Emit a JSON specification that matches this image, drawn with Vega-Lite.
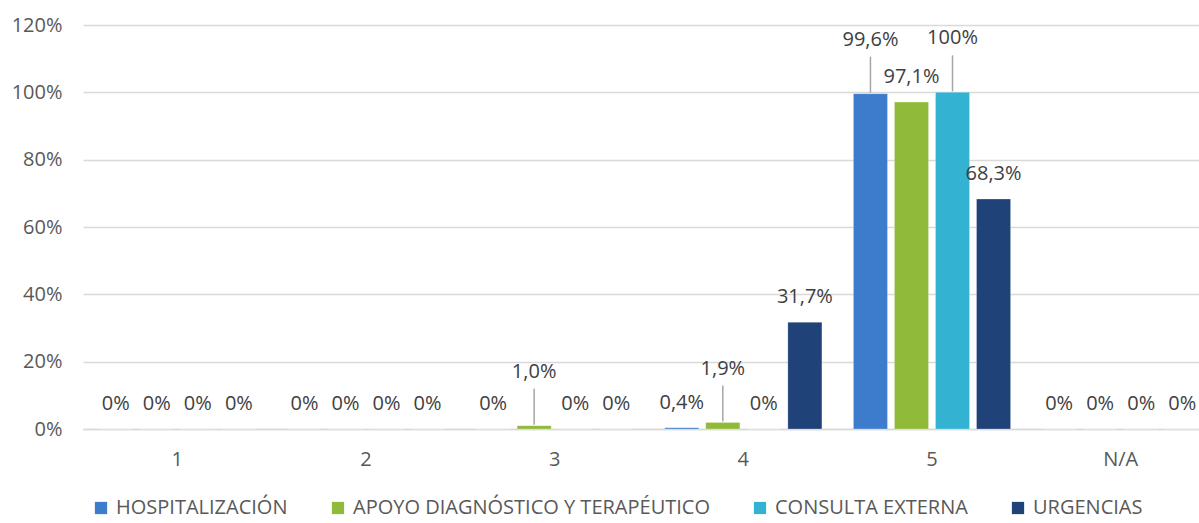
{
  "$schema": "https://vega.github.io/schema/vega-lite/v6.json",
  "width": 1132,
  "height": 404,
  "autosize": {"type": "none"},
  "padding": {"left": 83, "top": 25, "right": 0, "bottom": 94},
  "background": "white",
  "config": {
    "font": "Open Sans",
    "view": {"stroke": null}
  },
  "data": {
    "values": [
      {"cat": "1", "serie": "HOSPITALIZACIÓN", "value": 0, "label": "0%"},
      {"cat": "1", "serie": "APOYO DIAGNÓSTICO Y TERAPÉUTICO", "value": 0, "label": "0%"},
      {"cat": "1", "serie": "CONSULTA EXTERNA", "value": 0, "label": "0%"},
      {"cat": "1", "serie": "URGENCIAS", "value": 0, "label": "0%"},
      {"cat": "2", "serie": "HOSPITALIZACIÓN", "value": 0, "label": "0%"},
      {"cat": "2", "serie": "APOYO DIAGNÓSTICO Y TERAPÉUTICO", "value": 0, "label": "0%"},
      {"cat": "2", "serie": "CONSULTA EXTERNA", "value": 0, "label": "0%"},
      {"cat": "2", "serie": "URGENCIAS", "value": 0, "label": "0%"},
      {"cat": "3", "serie": "HOSPITALIZACIÓN", "value": 0, "label": "0%"},
      {"cat": "3", "serie": "APOYO DIAGNÓSTICO Y TERAPÉUTICO", "value": 0.010, "label": "1,0%"},
      {"cat": "3", "serie": "CONSULTA EXTERNA", "value": 0, "label": "0%"},
      {"cat": "3", "serie": "URGENCIAS", "value": 0, "label": "0%"},
      {"cat": "4", "serie": "HOSPITALIZACIÓN", "value": 0.004, "label": "0,4%"},
      {"cat": "4", "serie": "APOYO DIAGNÓSTICO Y TERAPÉUTICO", "value": 0.019, "label": "1,9%"},
      {"cat": "4", "serie": "CONSULTA EXTERNA", "value": 0, "label": "0%"},
      {"cat": "4", "serie": "URGENCIAS", "value": 0.317, "label": "31,7%"},
      {"cat": "5", "serie": "HOSPITALIZACIÓN", "value": 0.996, "label": "99,6%"},
      {"cat": "5", "serie": "APOYO DIAGNÓSTICO Y TERAPÉUTICO", "value": 0.971, "label": "97,1%"},
      {"cat": "5", "serie": "CONSULTA EXTERNA", "value": 1.0, "label": "100%"},
      {"cat": "5", "serie": "URGENCIAS", "value": 0.683, "label": "68,3%"},
      {"cat": "N/A", "serie": "HOSPITALIZACIÓN", "value": 0, "label": "0%"},
      {"cat": "N/A", "serie": "APOYO DIAGNÓSTICO Y TERAPÉUTICO", "value": 0, "label": "0%"},
      {"cat": "N/A", "serie": "CONSULTA EXTERNA", "value": 0, "label": "0%"},
      {"cat": "N/A", "serie": "URGENCIAS", "value": 0, "label": "0%"}
    ]
  },
  "encoding": {
    "x": {
      "field": "cat",
      "type": "nominal",
      "sort": ["1", "2", "3", "4", "5", "N/A"],
      "scale": {"paddingInner": 0.167, "paddingOuter": 0.0835},
      "axis": {
        "title": null,
        "labelAngle": 0,
        "ticks": false,
        "domainColor": "#d9d9d9",
        "domainWidth": 1.5,
        "labelFontSize": 20,
        "labelColor": "#595959",
        "labelPadding": 20
      }
    },
    "xOffset": {
      "field": "serie",
      "type": "nominal",
      "sort": ["HOSPITALIZACIÓN", "APOYO DIAGNÓSTICO Y TERAPÉUTICO", "CONSULTA EXTERNA", "URGENCIAS"],
      "scale": {"paddingInner": 0.17, "paddingOuter": 0}
    },
    "y": {
      "field": "value",
      "type": "quantitative",
      "scale": {"domain": [0, 1.2], "nice": false},
      "axis": {
        "title": null,
        "values": [0, 0.2, 0.4, 0.6, 0.8, 1.0, 1.2],
        "format": ".0%",
        "domain": false,
        "ticks": false,
        "gridColor": "#d9d9d9",
        "gridWidth": 1.5,
        "labelFontSize": 20,
        "labelColor": "#595959",
        "labelPadding": 21
      }
    }
  },
  "layer": [
    {
      "mark": {"type": "bar", "stroke": "#ffffff", "strokeOpacity": 0.25, "strokeWidth": 1},
      "encoding": {
        "color": {
          "field": "serie",
          "type": "nominal",
          "sort": ["HOSPITALIZACIÓN", "APOYO DIAGNÓSTICO Y TERAPÉUTICO", "CONSULTA EXTERNA", "URGENCIAS"],
          "scale": {
            "domain": ["HOSPITALIZACIÓN", "APOYO DIAGNÓSTICO Y TERAPÉUTICO", "CONSULTA EXTERNA", "URGENCIAS"],
            "range": ["#3d7ccd", "#8fba3a", "#33b3d1", "#1f4379"]
          },
          "legend": {
            "title": null,
            "orient": "none",
            "direction": "horizontal",
            "legendX": 8,
            "legendY": 473,
            "symbolType": "square",
            "symbolSize": 150,
            "symbolStrokeWidth": 0,
            "labelFontSize": 20,
            "labelColor": "#595959",
            "labelOffset": 5,
            "labelLimit": 500,
            "columnPadding": 40
          }
        }
      }
    },
    {
      "transform": [
        {"filter": "!((datum.cat == '5' && (datum.serie == 'HOSPITALIZACIÓN' || datum.serie == 'CONSULTA EXTERNA')) || ((datum.cat == '3' || datum.cat == '4') && datum.serie == 'APOYO DIAGNÓSTICO Y TERAPÉUTICO'))"}
      ],
      "mark": {"type": "text", "dy": -25, "fontSize": 20, "color": "#404040"},
      "encoding": {
        "text": {"field": "label", "type": "nominal"}
      }
    },
    {
      "transform": [
        {"filter": "(datum.cat == '5' && (datum.serie == 'HOSPITALIZACIÓN' || datum.serie == 'CONSULTA EXTERNA')) || ((datum.cat == '3' || datum.cat == '4') && datum.serie == 'APOYO DIAGNÓSTICO Y TERAPÉUTICO')"}
      ],
      "mark": {"type": "text", "dy": -54, "fontSize": 20, "color": "#404040"},
      "encoding": {
        "text": {"field": "label", "type": "nominal"}
      }
    },
    {
      "transform": [
        {"filter": "(datum.cat == '5' && (datum.serie == 'HOSPITALIZACIÓN' || datum.serie == 'CONSULTA EXTERNA')) || ((datum.cat == '3' || datum.cat == '4') && datum.serie == 'APOYO DIAGNÓSTICO Y TERAPÉUTICO')"}
      ],
      "mark": {"type": "rule", "color": "#a6a6a6", "strokeWidth": 1.5, "yOffset": -1, "y2Offset": -37},
      "encoding": {
        "y2": {"field": "value"}
      }
    }
  ]
}
